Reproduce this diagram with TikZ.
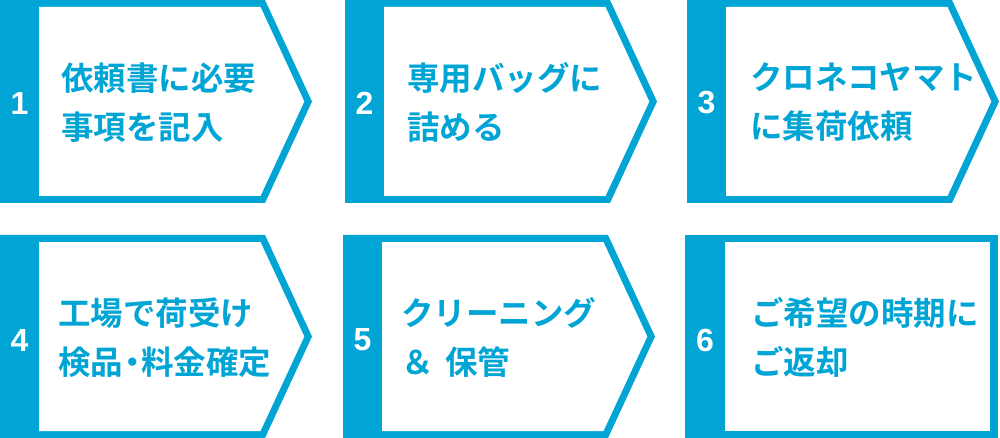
\documentclass[tikz,border=0pt]{standalone}
\usepackage{fontspec}
\newfontfamily\jpfont{Noto Sans CJK JP}[BoldFont={* Bold}]
\newfontfamily\numfont{Liberation Sans}
\definecolor{stepblue}{RGB}{0,165,214}

\begin{document}
\begin{tikzpicture}[x=1pt,y=-1pt,every node/.style={inner sep=0pt},
  steptext/.style={anchor=west,align=left,text=stepblue,font=\jpfont\bfseries\fontsize{32.5}{49}\selectfont},
  stepnum/.style={text=white,font=\numfont\bfseries\fontsize{32}{32}\selectfont}]
\useasboundingbox (0,0) rectangle (1000,438);
% step 1
\begin{scope}[shift={(0,0)}]
\fill[stepblue] (0,0) -- (265,0) -- (312,101.5) -- (265,203) -- (0,203) -- cycle;
\fill[white] (39,7) -- (260.5,7) -- (304.3,101.5) -- (260.5,196) -- (39,196) -- cycle;
\node[stepnum] (n1) at (19.5,103) {1};
\node[steptext] (t1) at (61,102.5) {依頼書に必要\\事項を記入};
\end{scope}
% step 2
\begin{scope}[shift={(345,0)}]
\fill[stepblue] (0,0) -- (265,0) -- (312,101.5) -- (265,203) -- (0,203) -- cycle;
\fill[white] (39,7) -- (260.5,7) -- (304.3,101.5) -- (260.5,196) -- (39,196) -- cycle;
\node[stepnum] (n2) at (19.5,103) {2};
\node[steptext] (t2) at (62,102.5) {専用バッグに\\詰める};
\end{scope}
% step 3
\begin{scope}[shift={(687,0)}]
\fill[stepblue] (0,0) -- (265,0) -- (312,101.5) -- (265,203) -- (0,203) -- cycle;
\fill[white] (39,7) -- (260.5,7) -- (304.3,101.5) -- (260.5,196) -- (39,196) -- cycle;
\node[stepnum] (n3) at (19.5,103) {3};
\node[steptext] (t3) at (63,102.5) {クロネコヤマト\\に集荷依頼};
\end{scope}
% step 4
\begin{scope}[shift={(0,235)}]
\fill[stepblue] (0,0) -- (265,0) -- (312,101.5) -- (265,203) -- (0,203) -- cycle;
\fill[white] (39,7) -- (260.5,7) -- (304.3,101.5) -- (260.5,196) -- (39,196) -- cycle;
\node[stepnum] (n4) at (19.5,105) {4};
\node[steptext] (t4) at (58,102.5) {工場で荷受け\\検品\hspace{-0.22em}・\hspace{-0.22em}料金確定};
\end{scope}
% step 5
\begin{scope}[shift={(343,235)}]
\fill[stepblue] (0,0) -- (265,0) -- (312,101.5) -- (265,203) -- (0,203) -- cycle;
\fill[white] (39,7) -- (260.5,7) -- (304.3,101.5) -- (260.5,196) -- (39,196) -- cycle;
\node[stepnum] (n5) at (19.5,105) {5};
\node[steptext] (t5) at (58,102.5) {クリーニング\\＆\hspace{0.35em}保管};
\end{scope}
% step 6
\begin{scope}[shift={(685,235)}]
\fill[stepblue] (0,0) rectangle (313,203);
\fill[white] (40,7) rectangle (305,196);
\node[stepnum] (n6) at (20,105) {6};
\node[steptext] (t6) at (66,102.5) {ご希望の時期に\\ご返却};
\end{scope}
\end{tikzpicture}
\end{document}
